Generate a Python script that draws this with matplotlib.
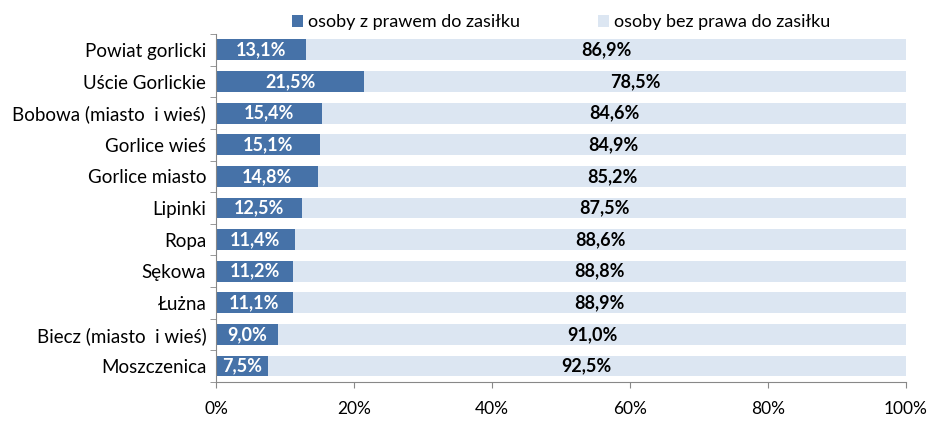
import matplotlib.pyplot as plt
import numpy as np

categories = ["Powiat gorlicki", "Uście Gorlickie", "Bobowa (miasto  i wieś)", "Gorlice wieś",
              "Gorlice miasto", "Lipinki", "Ropa", "Sękowa", "Łużna",
              "Biecz (miasto  i wieś)", "Moszczenica"]
z_prawem = [13.1, 21.5, 15.4, 15.1, 14.8, 12.5, 11.4, 11.2, 11.1, 9.0, 7.5]
bez_prawa = [86.9, 78.5, 84.6, 84.9, 85.2, 87.5, 88.6, 88.8, 88.9, 91.0, 92.5]
series_names = ["osoby z prawem do zasiłku", "osoby bez prawa do zasiłku"]
x_ticks = [0, 20, 40, 60, 80, 100]

plt.rcParams['font.family'] = ['Lato', 'DejaVu Sans']

fig = plt.figure(figsize=(9.31, 4.21), dpi=100)
ax = fig.add_axes([0.232, 0.093, 0.741, 0.826])

dark = "#4672A8"
light = "#DCE6F2"
y = np.arange(len(categories))[::-1]

b1 = ax.barh(y, z_prawem, height=0.66, color=dark, label=series_names[0])
b2 = ax.barh(y, bez_prawa, left=z_prawem, height=0.66, color=light, label=series_names[1])

for yi, a, b in zip(y, z_prawem, bez_prawa):
    ax.text(a / 2, yi, f"{a:.1f}%".replace(".", ","), ha="center", va="center",
            color="white", fontsize=13, fontweight="bold")
    ax.text(a + b / 2, yi, f"{b:.1f}%".replace(".", ","), ha="center", va="center",
            color="black", fontsize=13, fontweight="bold")

ax.set_xlim(0, 100)
ax.set_ylim(-0.5, len(categories) - 0.5)
ax.set_xticks(x_ticks)
ax.set_xticklabels([f"{t}%" for t in x_ticks], fontsize=12.5)
ax.tick_params(axis="x", direction="out", length=4, pad=10, color="#888888")

# category labels between the boundary tick marks, Excel style
ax.set_yticks(y)
ax.set_yticklabels(categories, fontsize=13.5)
ax.tick_params(axis="y", which="major", length=0, pad=7)
ax.set_yticks(np.arange(-0.5, len(categories), 1), minor=True)
ax.tick_params(axis="y", which="minor", direction="out", length=4, color="#888888")

for side in ["top", "right"]:
    ax.spines[side].set_visible(False)
ax.spines["left"].set_color("#888888")
ax.spines["bottom"].set_color("#888888")

fig.legend(handles=[b1, b2], loc="upper center", bbox_to_anchor=(0.603, 1.005), ncol=2,
           frameon=False, fontsize=13, handlelength=0.6, handleheight=0.6,
           handletextpad=0.3, columnspacing=4.3)

fig.savefig("out.png", dpi=100)
